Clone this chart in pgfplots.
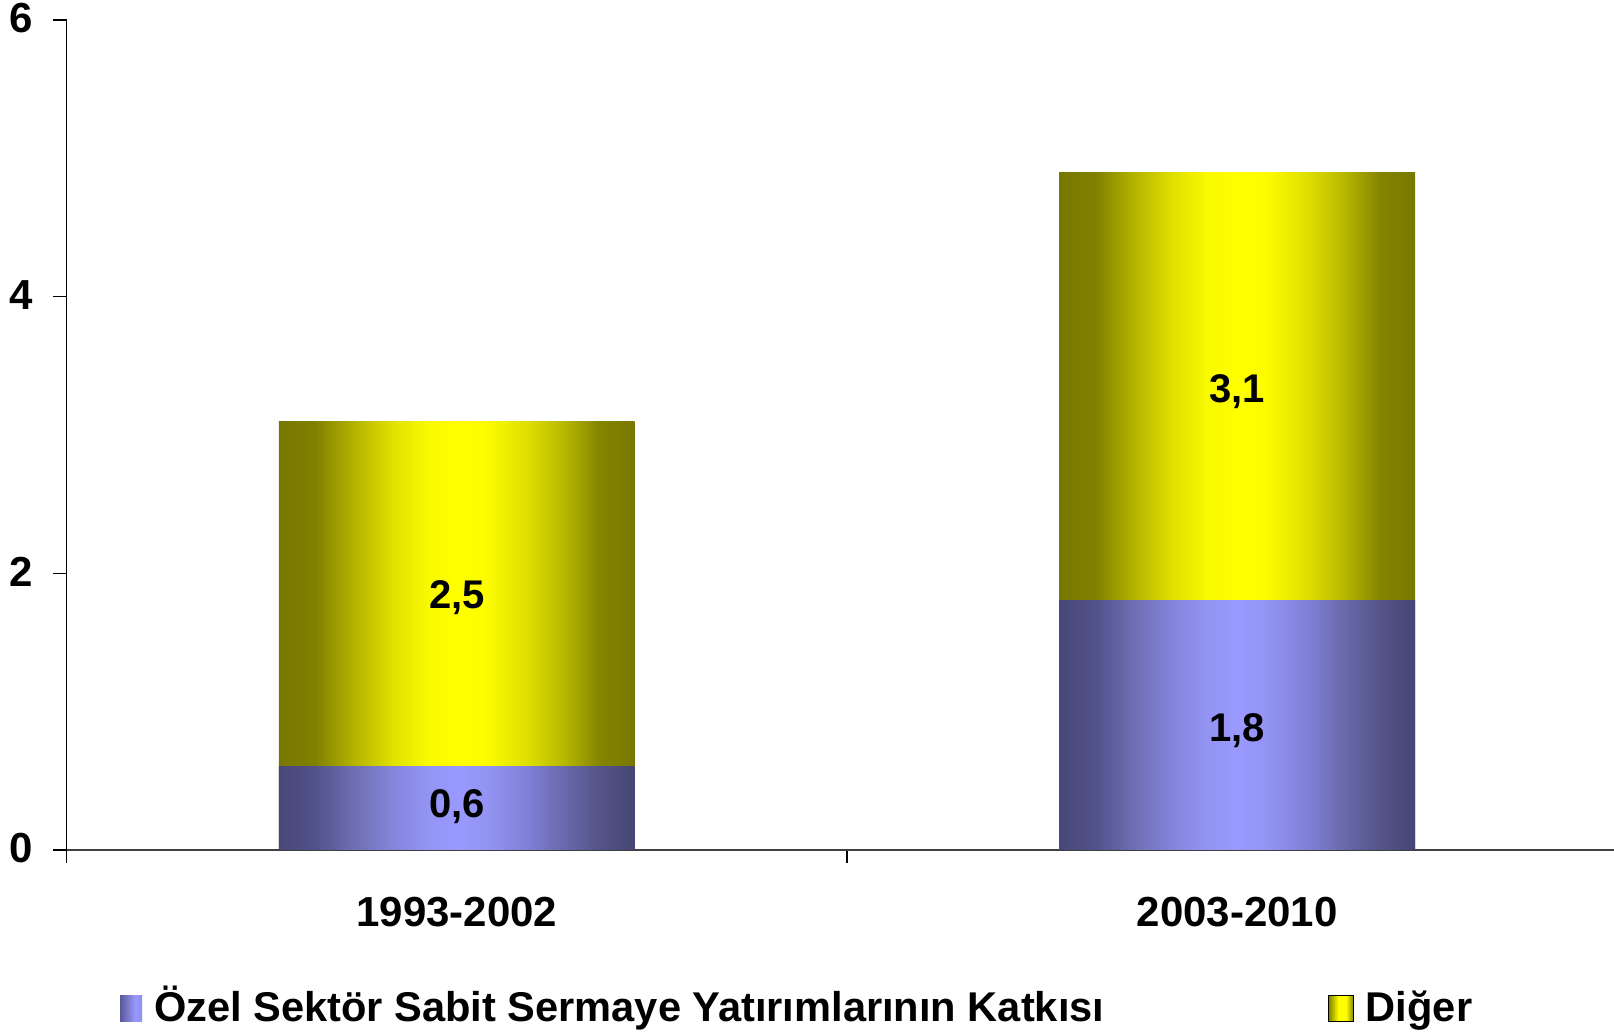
\documentclass[border=0pt]{standalone}
\usepackage{pgfplots}
\pgfplotsset{compat=1.18}
\usepackage{fontspec}
\setmainfont{Liberation Sans}
\usetikzlibrary{calc}

\pgfdeclarehorizontalshading{yshade}{100bp}{%
 rgb(0bp)=(0.47,0.47,0); rgb(25bp)=(0.47,0.47,0); rgb(30bp)=(0.5,0.5,0);
 rgb(36bp)=(0.72,0.72,0); rgb(41bp)=(0.88,0.88,0); rgb(46bp)=(0.98,0.98,0);
 rgb(50bp)=(1,1,0); rgb(54bp)=(0.99,0.99,0); rgb(60bp)=(0.87,0.87,0);
 rgb(65bp)=(0.72,0.72,0); rgb(70bp)=(0.52,0.52,0); rgb(75bp)=(0.47,0.47,0); rgb(100bp)=(0.47,0.47,0)}
\pgfdeclarehorizontalshading{bshade}{100bp}{%
 rgb(0bp)=(0.28,0.28,0.47); rgb(25bp)=(0.28,0.28,0.47); rgb(30bp)=(0.32,0.32,0.54);
 rgb(36bp)=(0.44,0.44,0.72); rgb(41bp)=(0.52,0.52,0.86); rgb(46bp)=(0.58,0.58,0.96);
 rgb(50bp)=(0.6,0.6,1); rgb(54bp)=(0.58,0.58,0.96); rgb(60bp)=(0.5,0.5,0.84);
 rgb(65bp)=(0.41,0.41,0.67); rgb(70bp)=(0.33,0.33,0.54); rgb(75bp)=(0.27,0.27,0.45); rgb(100bp)=(0.27,0.27,0.45)}
\pgfdeclarehorizontalshading{lyshade}{100bp}{%
 rgb(0bp)=(0.5,0.5,0); rgb(25bp)=(0.5,0.5,0); rgb(45bp)=(1,1,0); rgb(60bp)=(1,1,0); rgb(75bp)=(0.5,0.5,0); rgb(100bp)=(0.5,0.5,0)}
\pgfdeclarehorizontalshading{lbshade}{100bp}{%
 rgb(0bp)=(0.35,0.35,0.6); rgb(25bp)=(0.35,0.35,0.6); rgb(60bp)=(0.6,0.6,1); rgb(75bp)=(0.55,0.55,0.95); rgb(100bp)=(0.55,0.55,0.95)}

\newcommand{\tf}{\bfseries\fontsize{21}{21}\selectfont}
\newcommand{\vf}{\bfseries\fontsize{20}{20}\selectfont}
\newcommand{\legf}{\bfseries\fontsize{20.8}{21}\selectfont}

\begin{document}
\begin{tikzpicture}
\begin{axis}[
  scale only axis,
  width=773.65pt, height=415pt,
  xmin=-0.5, xmax=1.483,
  ymin=0, ymax=6,
  axis x line*=bottom, axis y line*=left,
  x axis line style={draw=black!75, line width=1.1pt},
  y axis line style={draw=black, line width=0.6pt},
  ybar, bar shift=0pt, bar width=0.456,
  ytick={0,2,4,6}, yticklabels={0,2,4,6},
  xtick={0,1}, xticklabels={1993-2002,2003-2010},
  minor xtick={-0.5,0.5},
  tick align=outside,
  major tick length=7pt, minor tick length=6.5pt,
  xtick style={draw=none},
  minor x tick style={draw=black, line width=0.6pt},
  ytick style={draw=black, line width=0.6pt},
  yticklabel style={font=\tf, anchor=base east, inner sep=0pt, xshift=-9.85pt, yshift=-6.5pt},
  xticklabel style={font=\tf, anchor=base, inner sep=0pt, yshift=-31.5pt},
  legend columns=2,
  legend style={draw=none, fill=none, font=\legf, inner sep=0pt, outer sep=0pt,
    at={(0.0345,-0.187)}, anchor=west,
    nodes={inner sep=0pt},
    cells={anchor=base west},
    /tikz/every odd column/.style={column sep=6pt}},
  clip=false,
]
% Diğer segments (drawn from 0 up to the bar total, lower part covered by the blue segment)
\addplot[draw=none, shade, shading=yshade, forget plot] coordinates {(0,3.1)};
\addplot[draw=none, shade, shading=yshade, forget plot] coordinates {(1,4.9)};
% Özel sektör segments
\addplot[draw=none, shade, shading=bshade,
  legend image code/.code={\shade[shading=lbshade] (0pt,0pt) rectangle (11pt,12.8pt);}]
  coordinates {(0,0.6)};
\addlegendentry{\makebox[587pt][l]{Özel Sektör Sabit Sermaye Yatırımlarının Katkısı}}
\addplot[draw=none, shade, shading=bshade, forget plot] coordinates {(1,1.8)};
\addlegendimage{legend image code/.code={\shade[shading=lyshade] (0pt,0pt) rectangle (12.5pt,12.8pt);}}
\addlegendentry{Diğer}
\coordinate (l1) at (axis cs:0,0.34);
\coordinate (l2) at (axis cs:0,1.85);
\coordinate (l3) at (axis cs:1,0.89);
\coordinate (l4) at (axis cs:1,3.34);
\end{axis}
\node[font=\vf, anchor=base, yshift=-7.2pt] at (l1) {0,6};
\node[font=\vf, anchor=base, yshift=-7.2pt] at (l2) {2,5};
\node[font=\vf, anchor=base, yshift=-7.2pt] at (l3) {1,8};
\node[font=\vf, anchor=base, yshift=-7.2pt] at (l4) {3,1};
\pgfresetboundingbox
\path ($(current axis.south west)+(-33.35pt,-91pt)$) rectangle ($(current axis.north east)+(0pt,10pt)$);
\end{tikzpicture}
\end{document}
